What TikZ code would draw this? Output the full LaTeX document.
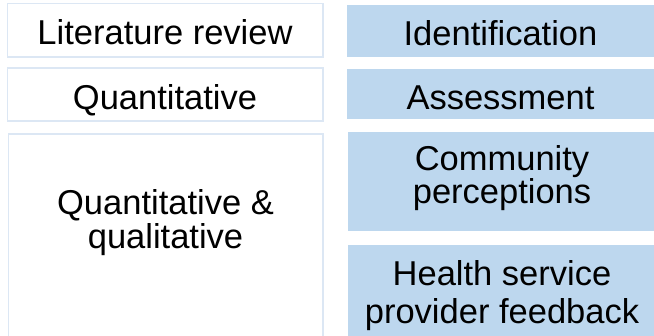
\documentclass[tikz,border=0pt]{standalone}
\usepackage{fontspec}
\setmainfont{Liberation Sans}
\definecolor{methodedge}{HTML}{DCE7F4}
\definecolor{aimfill}{HTML}{BDD7EE}
\begin{document}
\begin{tikzpicture}[x=1pt,y=-1pt,
  methodbox/.style={draw=methodedge,line width=1.5pt,fill=white,inner sep=0pt},
  aimbox/.style={fill=aimfill,draw=none,inner sep=0pt},
  label/.style={inner sep=0pt,anchor=base,align=center,
    font=\fontsize{34.5}{38.5}\selectfont},
  tight/.style={font=\fontsize{34.5}{32}\selectfont},
  medium/.style={font=\fontsize{34.5}{34}\selectfont}]
\useasboundingbox (0,0) rectangle (654,336);
\fill[white] (0,0) rectangle (654,336);

% method boxes (left column)
\node[methodbox,minimum width=315.5pt,minimum height=53.5pt] (litbox) at (165.25,30.25) {};
\node[methodbox,minimum width=315.5pt,minimum height=53pt] (quantbox) at (165.25,94.5) {};
\node[methodbox,minimum width=314.5pt,minimum height=206pt] (mixedbox) at (165.75,237) {};

% aim boxes (right column)
\node[aimbox,minimum width=309pt,minimum height=52pt] (idbox) at (501.5,31) {};
\node[aimbox,minimum width=309pt,minimum height=50pt] (assessbox) at (501.5,94) {};
\node[aimbox,minimum width=308pt,minimum height=99pt] (commbox) at (502,181.5) {};
\node[aimbox,minimum width=308pt,minimum height=95pt] (hspbox) at (502,292.5) {};

% labels (base anchor sits on the last line)
\node[label] (lit) at (165,44.5) {Literature review};
\node[label] (quant) at (165,110) {Quantitative};
\node[label,medium] (mixed) at (165.5,249) {Quantitative \&\\qualitative};
\node[label] (id) at (500.5,45.5) {Identification};
\node[label] (assess) at (500.5,110) {Assessment};
\node[label,tight] (comm) at (502,204) {Community\\perceptions};
\node[label] (hsp) at (502,324) {Health service\\provider feedback};
\end{tikzpicture}
\end{document}
